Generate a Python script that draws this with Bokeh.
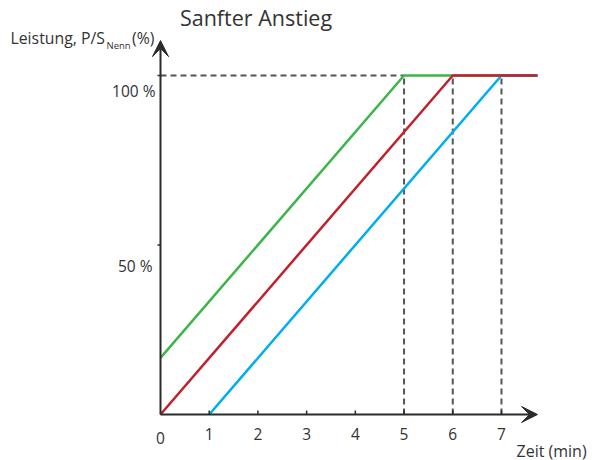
from bokeh.plotting import figure
from bokeh.models import Range1d, Arrow, VeeHead
from bokeh.core.properties import value
from bokeh.embed import file_html
from bokeh.resources import INLINE

# ---- data ----
x_ticks = [1, 2, 3, 4, 5, 6, 7]
x_tick_labels = ["1", "2", "3", "4", "5", "6", "7"]
y_ticks = [50, 100]
y_tick_labels = ["50 %", "100 %"]
t_axis_end = 7.74
p_axis_end = 110.3

green_t = [0, 5, t_axis_end]
green_p = [16.7, 100, 100]
red_t = [0, 6, t_axis_end]
red_p = [0, 100, 100]
blue_t = [1, 7, t_axis_end]
blue_p = [0, 100, 100]
ramp_ends = [5, 6, 7]
full_power = 100

title_text = "Sanfter Anstieg"
x_title = "Zeit (min)"

FONT = "Open Sans"
TXT = "#333333"
AX = "#2b2b2b"

W, H = 598, 460
# pixel geometry of the axes origin and scale
X0, Y0 = 160, 414
PX_X = 48.71
PX_Y = 3.39


def dx(X):
    return (X - X0) / PX_X


def dy(Y):
    return (Y0 - Y) / PX_Y


p = figure(width=W, height=H,
           x_range=Range1d(dx(0), dx(W)), y_range=Range1d(dy(H), dy(0)),
           output_backend="svg", toolbar_location=None,
           x_axis_location=None, y_axis_location=None,
           min_border=0)
p.min_border_left = p.min_border_right = p.min_border_top = p.min_border_bottom = 0
p.outline_line_color = None
p.grid.visible = False

# dashed guide lines
p.segment(x0=[0], y0=[full_power], x1=[ramp_ends[0]], y1=[full_power],
          line_color="#555555", line_width=2, line_dash="6 4")
p.segment(x0=ramp_ends, y0=[0] * len(ramp_ends), x1=ramp_ends, y1=[full_power] * len(ramp_ends),
          line_color="#555555", line_width=2, line_dash="6 4")

# ramps
p.line(green_t, green_p, line_color="#3db54a", line_width=2.5)
p.line(blue_t, blue_p, line_color="#00aeef", line_width=2.5)
p.line(red_t, red_p, line_color="#c1202d", line_width=2.5)

# axes with arrow heads
p.add_layout(Arrow(end=VeeHead(size=16, fill_color=AX, line_color=AX),
                   x_start=0, y_start=0, x_end=0, y_end=p_axis_end,
                   line_color=AX, line_width=2))
p.add_layout(Arrow(end=VeeHead(size=16, fill_color=AX, line_color=AX),
                   x_start=0, y_start=0, x_end=t_axis_end, y_end=0,
                   line_color=AX, line_width=2))

# ticks
p.segment(x0=x_ticks, y0=[0] * len(x_ticks), x1=x_ticks, y1=[4 / PX_Y] * len(x_ticks),
          line_color=AX, line_width=1.5)
p.segment(x0=[-3 / PX_X] * len(y_ticks), y0=y_ticks, x1=[0] * len(y_ticks), y1=y_ticks,
          line_color=AX, line_width=1.5)


def txt(texts, xs, ys, size="15px", align="left", baseline="middle"):
    p.text(x=xs, y=ys, text=texts, text_font=value(FONT), text_font_size=size,
           text_color=TXT, text_align=align, text_baseline=baseline)


# tick labels
txt(x_tick_labels, x_ticks, [dy(433.5)] * len(x_ticks), size="15.5px", align="center")
txt(["0"], [0], [dy(437.5)], size="15.5px", align="center")
txt(y_tick_labels, [dx(152), dx(155)], [dy(265), dy(90)], size="15.5px", align="right")

# titles
txt([title_text], [dx(255.5)], [dy(17)], size="21.5px", align="center")
txt(["Leistung, P/S"], [dx(10)], [dy(37.5)], size="15.8px")
txt(["Nenn"], [dx(106)], [dy(45)], size="9.5px")
txt(["(%)"], [dx(131.5)], [dy(37.5)], size="15.8px")
txt([x_title], [dx(516)], [dy(450)], size="16px")

open("out.html", "w").write(file_html(p, INLINE))
